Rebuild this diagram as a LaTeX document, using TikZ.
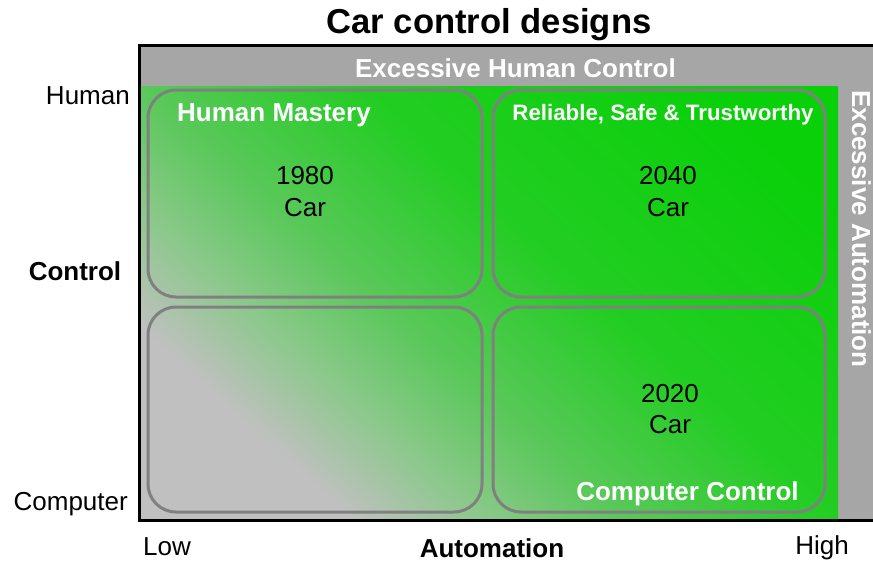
\documentclass[tikz,border=0pt]{standalone}
\usepackage{xcolor}
\usepackage{fontspec}
\setmainfont{Liberation Sans}
\usepackage{tikz}
\usetikzlibrary{shadings}

\definecolor{bandgray}{HTML}{A6A6A6}
\definecolor{framegray}{HTML}{808080}
\definecolor{cellgray}{RGB}{192,192,192}
\definecolor{softgreen}{RGB}{140,200,140}
\definecolor{midgreen}{RGB}{90,200,90}
\definecolor{deepgreen}{RGB}{35,205,35}
\definecolor{brightgreen}{RGB}{10,208,10}
\pgfdeclarehorizontalshading{carfade}{100bp}{color(0bp)=(cellgray); color(35bp)=(cellgray); color(40.2bp)=(softgreen); color(45.7bp)=(midgreen); color(54.3bp)=(deepgreen); color(68bp)=(brightgreen); color(100bp)=(brightgreen)}

\begin{document}
\begin{tikzpicture}[x=1pt, y=-1pt,
    lbl/.style={inner sep=0pt, anchor=base, font=\fontsize{26}{30}\selectfont},
    boldlbl/.style={lbl, font=\fontsize{26}{30}\selectfont\bfseries},
    whitelbl/.style={boldlbl, text=white},
    cellbox/.style={draw=framegray, line width=3pt, rounded corners=28pt, inner sep=0pt}]
    \useasboundingbox (0,0) rectangle (873,562);

    % background bands and the shaded field
    \fill[bandgray] (139,46) rectangle (873,86);
    \fill[bandgray] (838,86) rectangle (873,519);
    \begin{scope}
        \clip (139,86) rectangle (838,519);
        \shade[shading=carfade, transform canvas={rotate around={48:(488.5,302.5)}}] (68.5,-117.5) rectangle (908.5,722.5);
    \end{scope}

    % the four design cells
    \node (HM) [cellbox, minimum width=334pt, minimum height=207pt] at (315,193.5) {};
    \node (RST) [cellbox, minimum width=332pt, minimum height=207pt] at (659,193.5) {};
    \node (LL) [cellbox, minimum width=334pt, minimum height=205pt] at (315,409.5) {};
    \node (CC) [cellbox, minimum width=332pt, minimum height=205pt] at (659,409.5) {};

    % frame
    \draw[line width=3pt] (873,45) -- (139,45) -- (139,520) -- (873,520);

    % titles and band labels
    \node (title) [boldlbl, font=\fontsize{34.6}{40}\selectfont\bfseries] at (489,34) {Car control designs};
    \node (EHC) [whitelbl] at (515.5,77) {Excessive Human Control};
    \node (EA) [whitelbl, rotate=-90] at (852,229) {Excessive Automation};

    % cell labels
    \node (HMtxt) [whitelbl, anchor=base west] at (177,121) {Human Mastery};
    \node (RSTtxt) [whitelbl, font=\fontsize{22.3}{26}\selectfont\bfseries] at (663,120) {Reliable, Safe \& Trustworthy};
    \node (CCtxt) [whitelbl] at (687.5,500) {Computer Control};

    \node (y1980) [lbl] at (305,184) {1980};
    \node (c1980) [lbl] at (305,216) {Car};
    \node (y2040) [lbl] at (668,184) {2040};
    \node (c2040) [lbl] at (668,216) {Car};
    \node (y2020) [lbl] at (670,402) {2020};
    \node (c2020) [lbl] at (670,433) {Car};

    % axes
    \node (human) [lbl, anchor=base east] at (130,104) {Human};
    \node (control) [boldlbl] at (75,280) {Control};
    \node (computer) [lbl, anchor=base east] at (128,510) {Computer};
    \node (low) [lbl, anchor=base west] at (143,555) {Low};
    \node (automation) [boldlbl] at (492,557) {Automation};
    \node (high) [lbl] at (822,554) {High};
\end{tikzpicture}
\end{document}
